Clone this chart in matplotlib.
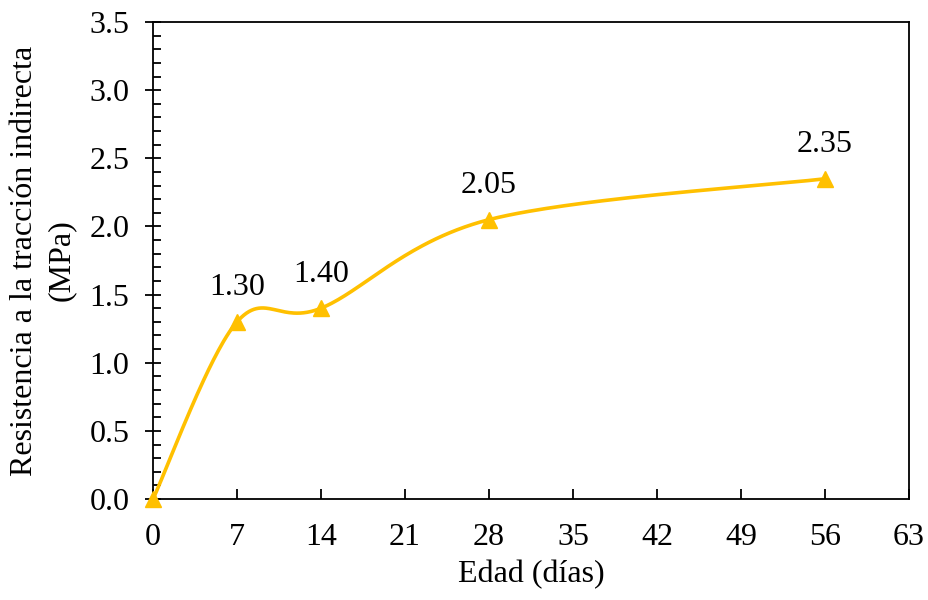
import numpy as np
import matplotlib
matplotlib.use("Agg")
import matplotlib.pyplot as plt
from matplotlib.ticker import MultipleLocator, FormatStrFormatter

plt.rcParams['font.family'] = ['Liberation Serif', 'DejaVu Serif']

edad = [0, 7, 14, 28, 56]
resistencia = [0.0, 1.30, 1.40, 2.05, 2.35]
etiquetas = ["", "1.30", "1.40", "2.05", "2.35"]

color = "#FFC000"
fs = 23

fig = plt.figure(figsize=(9.29, 6.0), dpi=100)
ax = fig.add_axes([0.1647, 0.1683, 0.9785 - 0.1647, 0.9633 - 0.1683])
ax.set_xlim(0, 63)
ax.set_ylim(0, 3.5)


def curva_suave(ax, xs, ys, n=60):
    # Bezier smoothing computed in display space, then mapped back to data
    pts = ax.transData.transform(np.column_stack([xs, ys]))
    m = len(pts)
    out = []
    for i in range(m - 1):
        p0 = pts[i]
        p3 = pts[i + 1]
        pm = pts[i - 1] if i > 0 else pts[i]
        pp = pts[i + 2] if i + 2 < m else pts[i + 1]
        c1 = p0 + (p3 - pm) / 6.0
        c2 = p3 - (pp - p0) / 6.0
        t = np.linspace(0, 1, n)[:, None]
        seg = ((1 - t) ** 3) * p0 + 3 * ((1 - t) ** 2) * t * c1 + 3 * (1 - t) * t ** 2 * c2 + t ** 3 * p3
        out.append(seg if i == 0 else seg[1:])
    out = np.vstack(out)
    return ax.transData.inverted().transform(out)


curva = curva_suave(ax, edad, resistencia)
ax.plot(curva[:, 0], curva[:, 1], color=color, lw=2.6, solid_capstyle='round', zorder=3)
ax.plot(edad, resistencia, linestyle='none', marker='^', markersize=11,
        color=color, clip_on=False, zorder=4)

for x, y, t in zip(edad, resistencia, etiquetas):
    if t:
        ax.annotate(t, (x, y), xytext=(0, 14), textcoords='offset points',
                    ha='center', va='bottom', fontsize=fs)

ax.xaxis.set_major_locator(MultipleLocator(7))
ax.yaxis.set_major_locator(MultipleLocator(0.5))
ax.yaxis.set_minor_locator(MultipleLocator(0.1))
ax.yaxis.set_major_formatter(FormatStrFormatter('%.1f'))

ax.tick_params(axis='x', which='major', direction='in', length=7, width=1.3,
               labelsize=fs, pad=17)
ax.tick_params(axis='y', which='major', direction='inout', length=12, width=1.3,
               labelsize=fs, pad=11)
ax.tick_params(axis='y', which='minor', direction='in', length=5.5, width=1.3)

for s in ax.spines.values():
    s.set_linewidth(1.3)

ax.set_xlabel("Edad (días)", fontsize=fs, labelpad=6)
ax.set_ylabel("Resistencia a la tracción indirecta\n(MPa)", fontsize=fs,
              labelpad=10, linespacing=1.35)

fig.savefig("out.png", dpi=100)
